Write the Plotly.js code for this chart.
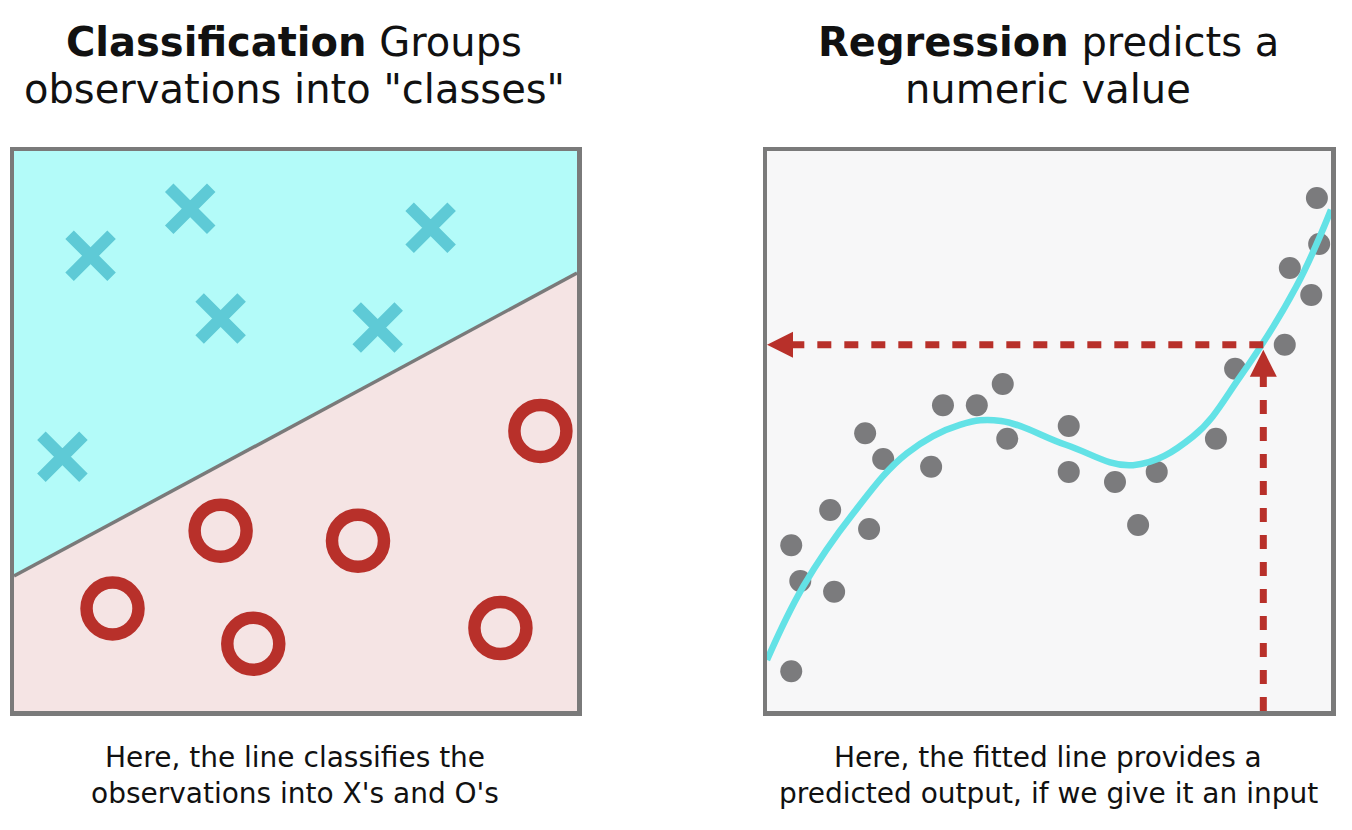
<!DOCTYPE html>
<html><head><meta charset="utf-8">
<script src="https://cdn.plot.ly/plotly-3.0.1.min.js"></script>
<style>html,body{margin:0;padding:0;background:#fff}#chart{width:1352px;height:830px}</style>
</head><body><div id="chart"></div>
<script>
// ---------- Left panel: classification ----------
const crossX = [13.6, 31.3, 74.0, 36.7, 64.6, 8.6];
const crossY = [81.3, 89.7, 86.3, 70.1, 68.5, 45.4];
const ringX  = [93.5, 36.7, 61.1, 17.5, 42.5, 86.4];
const ringY  = [50.0, 32.2, 30.4, 18.3, 12.0, 14.8];
const boundaryX = [0, 100];
const boundaryY = [24.1, 78.2];

// ---------- Right panel: regression ----------
const obsX = [97.5, 97.9, 92.7, 96.5, 91.8, 83.0, 41.8, 31.2, 37.2, 17.4, 53.5, 42.6, 79.6,
              20.6, 29.1, 53.5, 61.7, 69.1, 11.2, 18.1, 4.3, 5.9, 11.9, 65.8, 4.3];
const obsY = [91.6, 83.4, 79.1, 74.3, 65.4, 61.1, 58.4, 54.6, 54.6, 49.6, 50.9, 48.6, 48.6,
              45.0, 43.6, 42.7, 40.9, 42.7, 35.9, 32.5, 29.6, 23.2, 21.3, 33.2, 7.1];
const fitX = [0, 6.4, 15.3, 24.8, 34.2, 41.5, 53.1, 64.9, 75.5, 83.9, 93.8, 100];
const fitY = [9.1, 22.2, 35.3, 46.0, 51.1, 51.8, 47.5, 43.9, 49.0, 59.7, 75.7, 89.5];
const inputX = 88.0;
const predictedY = 65.4;

// ---------- Text ----------
const leftTitle = ['<b>Classification</b> Groups', 'observations into "classes"'];
const rightTitle = ['<b>Regression</b> predicts a', 'numeric value'];
const leftCaption = ['Here, the line classifies the', "observations into X's and O's"];
const rightCaption = ['Here, the fitted line provides a', 'predicted output, if we give it an input'];

const W = 1352, H = 830;
const FONT = '"DejaVu Sans", Inter, sans-serif';
const RED = '#b8302a', CYAN = '#5ecad6', GREY = '#7a7a7a';

const traces = [
  { x: boundaryX, y: boundaryY, xaxis: 'x', yaxis: 'y', mode: 'lines', fill: 'tozeroy',
    fillcolor: '#f5e4e4', line: { color: GREY, width: 3.5 }, hoverinfo: 'skip' },
  { x: crossX, y: crossY, xaxis: 'x', yaxis: 'y', mode: 'markers',
    marker: { symbol: 'x-thin', size: 42, color: CYAN, line: { color: CYAN, width: 12 } } },
  { x: ringX, y: ringY, xaxis: 'x', yaxis: 'y', mode: 'markers',
    marker: { symbol: 'circle-open', size: 52, color: RED, line: { color: RED, width: 12.5 } } },
  { x: obsX, y: obsY, xaxis: 'x2', yaxis: 'y2', mode: 'markers',
    marker: { symbol: 'circle', size: 22, color: '#7b7b7d' } },
  { x: fitX, y: fitY, xaxis: 'x2', yaxis: 'y2', mode: 'lines',
    line: { color: '#63e2e6', width: 6.5, shape: 'spline', smoothing: 1.1 } },
  { x: [inputX, 4], y: [predictedY, predictedY], xaxis: 'x2', yaxis: 'y2', mode: 'lines',
    line: { color: RED, width: 7, dash: '14px,13px' } },
  { x: [inputX, inputX], y: [0, predictedY - 4], xaxis: 'x2', yaxis: 'y2', mode: 'lines',
    line: { color: RED, width: 7, dash: '14px,13px' } },
  { x: [0], y: [predictedY], xaxis: 'x2', yaxis: 'y2', mode: 'markers', cliponaxis: false,
    marker: { symbol: 'arrow-left', size: 26, color: RED } },
  { x: [inputX], y: [predictedY - 0.9], xaxis: 'x2', yaxis: 'y2', mode: 'markers', cliponaxis: false,
    marker: { symbol: 'arrow-up', size: 27, color: RED } }
];

const axBase = { range: [0, 100], showgrid: false, zeroline: false, showticklabels: false,
  ticks: '', showline: true, mirror: true, linecolor: GREY, linewidth: 4.5, fixedrange: true };
const yDom = [1 - 711 / H, 1 - 151 / H];

function ann(text, px, py, size) {
  return { text, xref: 'paper', yref: 'paper', x: px / W, y: 1 - py / H,
    xanchor: 'center', yanchor: 'middle', showarrow: false,
    font: { family: FONT, size, color: '#111' } };
}

const layout = {
  width: W, height: H, margin: { l: 0, r: 0, t: 0, b: 0 },
  paper_bgcolor: '#ffffff', plot_bgcolor: '#f7f7f8', showlegend: false,
  xaxis: Object.assign({}, axBase, { domain: [14 / W, 577 / W], anchor: 'y' }),
  yaxis: Object.assign({}, axBase, { domain: yDom, anchor: 'x' }),
  xaxis2: Object.assign({}, axBase, { domain: [767 / W, 1331 / W], anchor: 'y2' }),
  yaxis2: Object.assign({}, axBase, { domain: yDom, anchor: 'x2' }),
  shapes: [
    { type: 'rect', xref: 'x domain', yref: 'y domain', x0: 0, x1: 1, y0: 0, y1: 1,
      fillcolor: '#b3fbf9', line: { width: 0 }, layer: 'below' }
  ],
  annotations: [
    ann(leftTitle[0], 294, 42, 40), ann(leftTitle[1], 294, 89, 40),
    ann(rightTitle[0], 1048, 42, 40), ann(rightTitle[1], 1048, 89, 40),
    ann(leftCaption[0], 295, 757, 28), ann(leftCaption[1], 295, 793, 28),
    ann(rightCaption[0], 1048, 757, 28), ann(rightCaption[1], 1048, 793, 28)
  ]
};

Plotly.newPlot('chart', traces, layout, { displayModeBar: false, staticPlot: true });
</script>
</body></html>
